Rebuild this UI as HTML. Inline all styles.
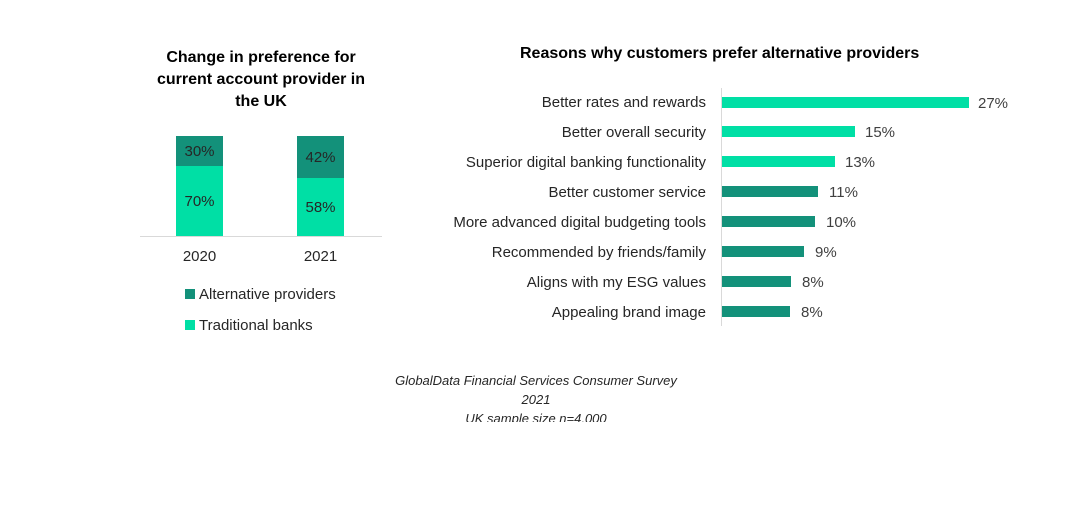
<!DOCTYPE html>
<html><head><style>
body{margin:0;width:1088px;height:509px;background:#fff;font-family:"Liberation Sans",sans-serif;position:relative;overflow:hidden}
.a{position:absolute;white-space:nowrap}
.t{font-weight:bold;font-size:16px;color:#000}
.l{font-size:15px;color:#262626}
.lab{font-size:15px;color:#262626;right:382px;text-align:right}
.val{font-size:15px;color:#404040}
.b{position:absolute;height:11px;left:722px}
.lt{background:#00DFA5}.dk{background:#13917A}
</style></head><body>
<div class="a t" style="left:150px;width:222px;text-align:center;top:47px;line-height:22px;white-space:normal">Change in preference for current account provider in the UK</div>
<div class="a" style="left:176px;top:136px;width:47px;height:30px;background:#13917A"></div>
<div class="a" style="left:176px;top:166px;width:47px;height:70px;background:#00DFA5"></div>
<div class="a" style="left:297px;top:136px;width:47px;height:42px;background:#13917A"></div>
<div class="a" style="left:297px;top:178px;width:47px;height:58px;background:#00DFA5"></div>
<div class="a l" style="left:176px;width:47px;text-align:center;top:143px">30%</div>
<div class="a l" style="left:176px;width:47px;text-align:center;top:193px">70%</div>
<div class="a l" style="left:297px;width:47px;text-align:center;top:149px">42%</div>
<div class="a l" style="left:297px;width:47px;text-align:center;top:199px">58%</div>
<div class="a" style="left:140px;top:236px;width:242px;height:1px;background:#d9d9d9"></div>
<div class="a l" style="left:166px;width:67px;text-align:center;top:248px">2020</div>
<div class="a l" style="left:287px;width:67px;text-align:center;top:248px">2021</div>
<div class="a" style="left:185px;top:289px;width:10px;height:10px;background:#13917A"></div>
<div class="a l" style="left:199px;top:286px">Alternative providers</div>
<div class="a" style="left:185px;top:320px;width:10px;height:10px;background:#00DFA5"></div>
<div class="a l" style="left:199px;top:317px">Traditional banks</div>

<div class="a t" style="left:520px;top:45px">Reasons why customers prefer alternative providers</div>
<div class="a" style="left:721px;top:88px;width:1px;height:238px;background:#d9d9d9"></div>
<div class="a lab" style="top:94px">Better rates and rewards</div>
<div class="a lab" style="top:124px">Better overall security</div>
<div class="a lab" style="top:154px">Superior digital banking functionality</div>
<div class="a lab" style="top:184px">Better customer service</div>
<div class="a lab" style="top:214px">More advanced digital budgeting tools</div>
<div class="a lab" style="top:244px">Recommended by friends/family</div>
<div class="a lab" style="top:274px">Aligns with my ESG values</div>
<div class="a lab" style="top:304px">Appealing brand image</div>
<div class="b lt" style="top:97px;width:247px"></div>
<div class="b lt" style="top:126px;width:133px"></div>
<div class="b lt" style="top:156px;width:113px"></div>
<div class="b dk" style="top:186px;width:96px"></div>
<div class="b dk" style="top:216px;width:93px"></div>
<div class="b dk" style="top:246px;width:82px"></div>
<div class="b dk" style="top:276px;width:69px"></div>
<div class="b dk" style="top:306px;width:68px"></div>
<div class="a val" style="left:978px;top:95px">27%</div>
<div class="a val" style="left:865px;top:124px">15%</div>
<div class="a val" style="left:845px;top:154px">13%</div>
<div class="a val" style="left:829px;top:184px">11%</div>
<div class="a val" style="left:826px;top:214px">10%</div>
<div class="a val" style="left:815px;top:244px">9%</div>
<div class="a val" style="left:802px;top:274px">8%</div>
<div class="a val" style="left:801px;top:304px">8%</div>

<div class="a" style="left:336px;width:400px;text-align:center;top:371px;font-size:13px;font-style:italic;color:#262626;line-height:19px;height:51px;overflow:hidden;white-space:normal">GlobalData Financial Services Consumer Survey<br>2021<br>UK sample size n=4,000</div>
</body></html>
